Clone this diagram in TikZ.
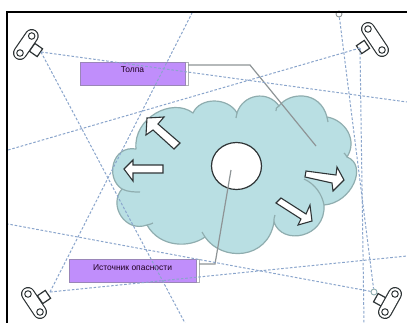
\documentclass[tikz,border=0pt]{standalone}
\usepackage{fontspec}
\usetikzlibrary{shapes.geometric}
\setmainfont{Liberation Sans}
\definecolor{cloudfill}{HTML}{B9DFE3}
\definecolor{cloudedge}{HTML}{8FADAF}
\definecolor{boxfill}{HTML}{C08EFB}
\definecolor{boxedge}{HTML}{9A86B8}
\definecolor{rayblue}{HTML}{8AA5CC}
\definecolor{leader}{HTML}{8E9496}
\definecolor{inkdark}{HTML}{2E3436}
\tikzset{
  x=1bp,y=-1bp,
  ray/.style={draw=rayblue,line width=1pt,dash pattern=on 2.6pt off 1.8pt},
  labelbox/.style={draw=boxedge,fill=boxfill,line width=0.7pt,inner sep=0pt,font=\fontsize{8.5}{10}\selectfont,text=black!75!violet},
  leaderline/.style={draw=leader,line width=1.2pt},
  boxcap/.style={draw=leader!70,fill=white,line width=0.7pt,minimum width=2.5bp,inner sep=0pt},
  bigarrow/.style={draw=inkdark,fill=white,line width=1.1pt,line join=miter},
  cloudline/.style={draw=cloudedge,line width=1.2pt},
  lens/.style={draw=inkdark,fill=white,line width=1.2pt,minimum size=9.5bp,inner sep=0pt},
  ringend/.style={circle,draw=inkdark,fill=white,line width=1pt,minimum size=6.5bp,inner sep=0pt},
  raydot/.style={circle,draw=#1,fill=white,line width=0.9pt,minimum size=6bp,inner sep=0pt},
  framedge/.style={draw=black,line width=2.2pt},
}
\newcommand{\camerabody}[5]{% name, angle, lens position, the two ends of the body
  \node[lens,rotate=#2] (#1) at (#3) {};
  \draw[inkdark,line width=14bp,line cap=round] (#4) -- (#5);
  \draw[white,line width=11.6bp,line cap=round] (#4) -- (#5);
  \node[ringend] (#1a) at (#4) {};
  \node[ringend] (#1b) at (#5) {};
}
\begin{document}
\begin{tikzpicture}
\useasboundingbox (0,0) rectangle (407,323);
\fill[white] (0,0) rectangle (407,323);

% cloud
\path[fill=cloudfill,cloudline,line join=round] (193,113)
 .. controls (200,97) and (228,97) .. (237,113)
 .. controls (243,94) and (268,90) .. (279,106)
 .. controls (289,92) and (320,90) .. (327,117)
 .. controls (345,120) and (358,140) .. (347,157)
 .. controls (368,165) and (352,203) .. (324,205)
 .. controls (326,238) and (282,246) .. (274,222)
 .. controls (268,260) and (222,262) .. (205,237)
 .. controls (190,248) and (160,248) .. (147,225)
 .. controls (125,233) and (108,205) .. (122,189)
 .. controls (105,178) and (112,145) .. (136,149)
 .. controls (133,118) and (172,97) .. (193,113) -- cycle;
\draw[cloudline] (237,113) .. controls (237,115) and (237,116) .. (236,118);
\draw[cloudline] (279,106) .. controls (277,107) and (275,109) .. (276,111);
\draw[cloudline] (327,117) .. controls (328,119) and (328,120) .. (328,122);
\draw[cloudline] (347,157) .. controls (346,155) and (345,154) .. (344,153);
\draw[cloudline] (304,179) .. controls (315,184) and (322,194) .. (324,205);
\draw[cloudline] (274,222) .. controls (274,219) and (274,217) .. (275,215);
\draw[cloudline] (205,237) .. controls (204,235) and (203,234) .. (202,232);
\draw[cloudline] (147,225) .. controls (150,224) and (152,224) .. (153,223);
\draw[cloudline] (122,189) .. controls (128,192) and (134,192) .. (140,192);

% hazard circle
\node[draw=inkdark,fill=white,ellipse,line width=1.2pt,minimum width=50bp,minimum height=47bp,inner sep=0pt] (source) at (236.5,166) {};

% arrows
\draw[bigarrow] (147,118) -- (164,117) -- (158,124) -- (180,143) -- (174,149) -- (153,130) -- (146,135) -- cycle;
\draw[bigarrow] (124,169) -- (133,160) -- (133,165) -- (163,165) -- (163,173) -- (133,173) -- (133,181) -- cycle;
\draw[bigarrow] (344,180) -- (333,191) -- (332,183) -- (305,177) -- (306,171) -- (336,175) -- (337,167) -- cycle;
\draw[bigarrow] (312,221) -- (298,225) -- (301,219) -- (276,203) -- (281,198) -- (306,214) -- (310,205) -- cycle;

% label boxes
\node[boxcap,minimum height=23bp] (capA) at (187,73.5) {};
\node[boxcap,minimum height=23bp] (capB) at (198,270.5) {};
\node[labelbox,minimum width=105bp,minimum height=23bp] (crowd) at (132.5,73.5) {\raisebox{8bp}{Толпа}};
\node[labelbox,minimum width=127bp,minimum height=23bp] (danger) at (132.5,270.5) {\raisebox{6bp}{Источник опасности}};

% leaders
\coordinate (crowdbend) at (250,65);
\coordinate (crowdend) at (316,146);
\coordinate (crowdstart) at (188,65);
\coordinate (dangerstart) at (199,264);
\coordinate (dangerbend) at (215,264);
\coordinate (dangerend) at (231,170);
\draw[leaderline] (crowdstart) -- (crowdbend) -- (crowdend);
\draw[leaderline] (dangerstart) -- (dangerbend) -- (dangerend);

% ray free ends
\coordinate (rTLa) at (407,102);
\coordinate (rTLb) at (185,323);
\coordinate (rTRa) at (8,150);
\coordinate (rTRb) at (364,323);
\coordinate (rBLa) at (192,13);
\coordinate (rBLb) at (407,256);
\coordinate (rBRa) at (8,224);

% cameras
\camerabody{camTL}{55}{36,50}{31.7,36}{20,53}
\camerabody{camTR}{-56}{363,47}{368,29}{382,50}
\camerabody{camBL}{-56}{44,297}{28,294}{40,312}
\camerabody{camBR}{61}{380,300}{395,294}{385,312}
\node[raydot=leader] (dotTop) at (339,14) {};
\node[raydot=cloudedge] (dotBR) at (374,292) {};

% rays
\coordinate (sTL) at (41,52);
\coordinate (sTR) at (360,48);
\coordinate (sBL) at (50,292);
\draw[ray] (sTL) -- (rTLa);
\draw[ray] (sTL) -- (rTLb);
\draw[ray] (sTR) -- (rTRa);
\draw[ray] (sTR) -- (rTRb);
\draw[ray] (sBL) -- (rBLa);
\draw[ray] (sBL) -- (rBLb);
\draw[ray] (dotBR) -- (rBRa);
\draw[ray] (dotTop) -- (dotBR);

% frame
\draw[framedge] (7,323) -- (7,12) -- (407,12);
\end{tikzpicture}
\end{document}
